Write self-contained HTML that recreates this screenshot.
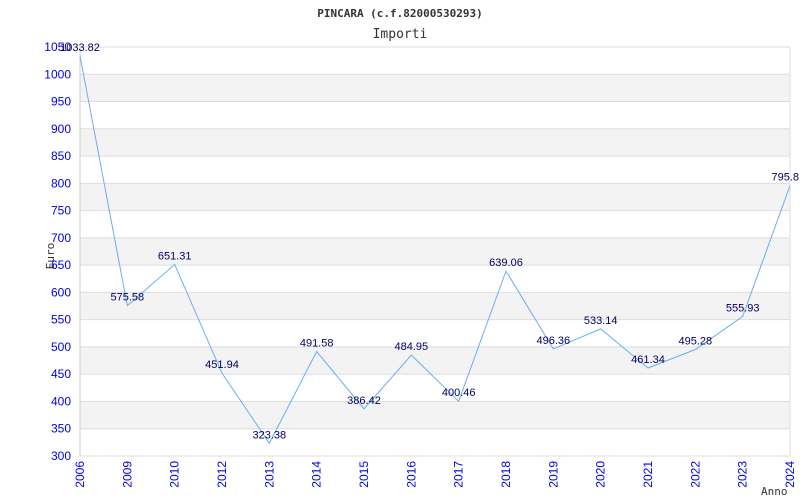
<!DOCTYPE html>
<html><head><meta charset="utf-8"><style>body{margin:0;background:#fff}svg{display:block}</style></head>
<body>
<svg id="chart" width="800" height="500" xmlns="http://www.w3.org/2000/svg" font-family="Liberation Sans, sans-serif">
<text x="400" y="17" text-anchor="middle" font-family="DejaVu Sans Mono, monospace" font-weight="bold" font-size="11" fill="#333">PINCARA (c.f.82000530293)</text>
<text x="400" y="38" text-anchor="middle" font-family="DejaVu Sans Mono, monospace" font-size="13" fill="#333">Importi</text>
<g id="grid"></g><g id="axes"></g><g id="series"></g>
<text transform="translate(54,256) rotate(-90)" text-anchor="middle" font-family="DejaVu Sans Mono, monospace" font-size="11" fill="#333">Euro</text>
<text x="761" y="495" font-family="DejaVu Sans Mono, monospace" font-size="11" fill="#333">Anno</text>
</svg>
<script>
const categories=['2006','2009','2010','2012','2013','2014','2015','2016','2017','2018','2019','2020','2021','2022','2023','2024'];
const values=[1033.82,575.58,651.31,451.94,323.38,491.58,386.42,484.95,400.46,639.06,496.36,533.14,461.34,495.28,555.93,795.8];
const yTicks=[300,350,400,450,500,550,600,650,700,750,800,850,900,950,1000,1050];
const NS='http://www.w3.org/2000/svg';
const L=80,R=790,T=47,B=456,ymin=300,ymax=1050;
const x=i=>L+i*(R-L)/(categories.length-1);
const y=v=>B-(v-ymin)/(ymax-ymin)*(B-T);
function mk(t,a,p){const e=document.createElementNS(NS,t);for(const k in a)e.setAttribute(k,a[k]);p.appendChild(e);return e;}
const grid=document.getElementById('grid'),axes=document.getElementById('axes'),ser=document.getElementById('series');
for(let i=0;i<yTicks.length-1;i++){
 if(i%2===1){const r=mk('rect',{x:L,y:y(yTicks[i+1]),width:R-L,height:y(yTicks[i])-y(yTicks[i+1]),fill:'#f3f3f3'},grid);
 
 }
}
yTicks.forEach(v=>{
 const l=mk('line',{x1:L,x2:R,y1:y(v),y2:y(v),stroke:'#ddd','stroke-width':1},grid);
 
 
 const t=mk('text',{x:L-9,y:y(v)+4,'text-anchor':'end','font-size':12,fill:'#0000ee'},axes);
 
 
 t.textContent=v;
});
const rl=mk('line',{x1:R,x2:R,y1:T,y2:B,stroke:'#ddd'},grid);


const ya=mk('line',{x1:L,x2:L,y1:T,y2:B,stroke:'#ccc'},axes);


categories.forEach((c,i)=>{
 const t=mk('text',{transform:`translate(${x(i)+4},${461}) rotate(-90)`,'text-anchor':'end','font-size':12,fill:'#0000ee'},axes);
 
 
 t.textContent=c;
});
const pl=mk('polyline',{points:values.map((v,i)=>x(i)+','+y(v)).join(' '),fill:'none',stroke:'#6aaef0','stroke-width':1},ser);


values.forEach((v,i)=>{
 const last=i===values.length-1;
 const t=mk('text',{x:last?799:x(i),y:y(v)-5,'text-anchor':last?'end':'middle','font-size':11,fill:'#000066'},ser);
 
 
 t.textContent=v;
});
</script>
</body></html>
